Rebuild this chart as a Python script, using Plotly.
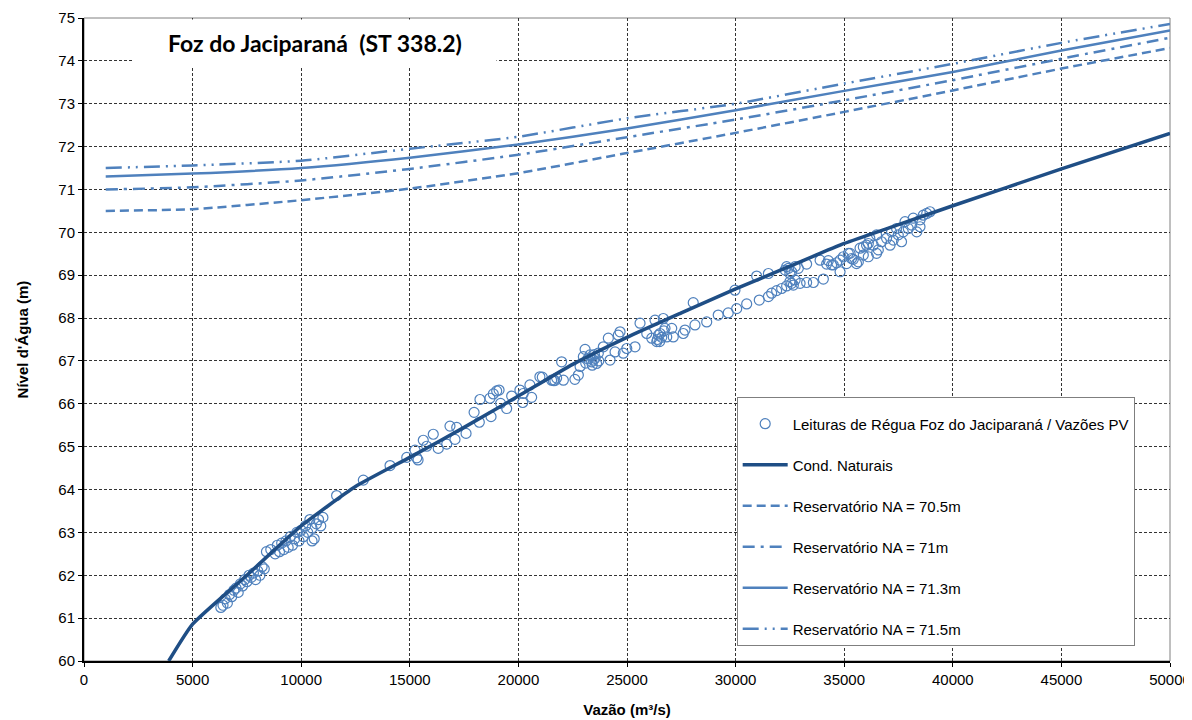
import plotly.graph_objects as go

# ---------------- data ----------------
obs_q = [
    6300, 6400, 6500, 6600, 6700, 6800, 6900, 7000, 7100, 7200, 7300, 7400, 7500, 7600, 7700, 7800, 7900, 8000, 8100, 8200, 8300,
    8400, 8600, 8800, 8900, 9000, 9100, 9200, 9300, 9400, 9500, 9600, 9700, 9800, 9900, 10000, 10100, 10200, 10300, 10400, 10500,
    10600, 10700, 10800, 10900, 11000, 10500,
    11630, 12860, 14090, 14860, 15240, 15320, 15380, 15620, 15780, 16080, 16310, 16700, 16850, 17080, 17160, 17590, 17960, 18200,
    18230, 18740, 18690, 18845, 19000, 19110, 19180, 19460, 19690, 20070, 20200, 20220, 20610, 20530, 21100, 21530, 21680, 21760,
    20990, 21610, 22070, 22600, 22760, 21990, 22840, 22990, 23070, 23300, 23370, 23450, 23530, 23600, 23680, 23910, 24140, 24220,
    24450, 24600, 24680, 24830, 24990, 25370, 25600, 25910, 26140, 26290, 26370, 26520, 26670, 26750, 26830, 27060, 27130, 27590,
    27670, 28130, 28670, 29200, 29660, 30050, 30510, 28050, 29970,
    26400, 26500, 26600, 26700, 26450, 23200, 23400, 23500, 23700, 23100,
    31090, 31510, 31660, 31890, 32120, 32350, 32500, 32580, 32660, 32740, 32970, 33270, 33580, 34040, 30970, 31510, 32280, 32350,
    32430, 32580, 32740, 32890, 33270, 33890, 34190, 34270, 34420, 34650, 34810, 34960, 35110, 35270, 35420, 35650, 35880, 36110,
    36340, 36490, 32500,
    34810, 34500, 35190, 35340, 35570, 35880, 36110, 35730, 36030, 36570, 36720, 36950, 37110, 37260, 37490, 37640, 37800, 37950,
    38110, 38180, 38340, 38490, 38640, 38800, 38950, 38490, 37720, 37410, 37180, 36490, 36180,
]
obs_h = [
    61.25, 61.3, 61.45, 61.35, 61.55, 61.5, 61.65, 61.7, 61.6, 61.8, 61.75, 61.9, 61.85, 62.0, 61.95, 62.05, 61.9, 62.1, 62.0, 62.2, 62.15,
    62.55, 62.6, 62.5, 62.7, 62.55, 62.75, 62.6, 62.8, 62.65, 62.9, 62.7, 62.85, 63.0, 62.8, 63.05, 62.9, 63.15, 63.0, 63.3, 63.1,
    62.85, 63.2, 63.3, 63.15, 63.35, 62.8,
    63.86, 64.22, 64.56, 64.75, 64.92, 64.74, 64.69, 65.15, 65.01, 65.29, 64.96, 65.06, 65.48, 65.17, 65.45, 65.31, 65.8, 65.57,
    66.1, 65.7, 66.13, 66.23, 66.3, 66.32, 66.01, 65.89, 66.18, 66.32, 66.03, 66.24, 66.15, 66.44, 66.62, 66.55, 66.54, 66.6,
    66.63, 66.54, 66.55, 66.57, 66.67, 66.98, 66.87, 67.1, 67.27, 67.14, 66.98, 67.02, 67.06, 66.94, 67.18, 67.33, 67.53, 67.02,
    67.21, 67.6, 67.68, 67.18, 67.29, 67.33, 67.88, 67.64, 67.53, 67.95, 67.45, 67.64, 67.99, 67.76, 67.56, 67.76, 67.56, 67.64,
    67.72, 67.84, 67.91, 68.07, 68.12, 68.22, 68.33, 68.36, 68.65,
    67.5, 67.45, 67.55, 67.7, 67.6, 67.05, 66.9, 67.15, 67.0, 66.95,
    68.42, 68.5, 68.58, 68.64, 68.69, 68.75, 68.85, 68.81, 68.77, 68.89, 68.81, 68.83, 68.83, 68.91, 68.98, 69.04, 69.12, 69.2,
    69.16, 69.08, 69.2, 69.16, 69.26, 69.35, 69.26, 69.34, 69.24, 69.29, 69.35, 69.43, 69.27, 69.51, 69.37, 69.31, 69.66, 69.74,
    69.7, 69.51, 69.04,
    69.08, 69.24, 69.51, 69.39, 69.27, 69.47, 69.43, 69.63, 69.7, 69.59, 69.78, 69.86, 69.7, 69.82, 69.94, 69.78, 70.25, 70.09,
    70.17, 70.33, 70.01, 70.13, 70.4, 70.44, 70.48, 70.29, 70.01, 70.09, 70.01, 69.94, 69.86,
]

nat_q = [3900, 5000, 7500, 10000, 12500, 15000, 17500, 20000, 22500, 25000, 27500, 30000, 32500, 35000, 37500, 40000, 45000, 50000]
nat_h = [60.0, 60.86, 62.0, 63.15, 64.07, 64.75, 65.45, 66.18, 66.92, 67.55, 68.12, 68.68, 69.21, 69.74, 70.18, 70.62, 71.48, 72.31]

res_q = [1000, 5000, 10000, 15000, 20000, 25000, 30000, 35000, 40000, 45000, 50000]
res_705 = [70.5, 70.54, 70.75, 71.02, 71.38, 71.85, 72.32, 72.81, 73.31, 73.82, 74.30]
res_710 = [71.0, 71.05, 71.21, 71.48, 71.81, 72.22, 72.63, 73.08, 73.55, 74.05, 74.54]
res_713 = [71.3, 71.37, 71.5, 71.74, 72.05, 72.42, 72.85, 73.3, 73.74, 74.24, 74.71]
res_715 = [71.5, 71.56, 71.67, 71.95, 72.23, 72.66, 73.0, 73.47, 73.93, 74.42, 74.86]

x_ticks = [0, 5000, 10000, 15000, 20000, 25000, 30000, 35000, 40000, 45000, 50000]
y_ticks = [60, 61, 62, 63, 64, 65, 66, 67, 68, 69, 70, 71, 72, 73, 74, 75]

names = ["Leituras de Régua Foz do Jaciparaná / Vazões PV", "Cond. Naturais",
         "Reservatório NA = 70.5m", "Reservatório NA = 71m",
         "Reservatório NA = 71.3m", "Reservatório NA = 71.5m"]

# ---------------- figure ----------------
LIGHT = "#4F81BD"
DARK = "#1F4E85"
FONT = "Liberation Sans, Arial, sans-serif"

fig = go.Figure()
fig.add_trace(go.Scatter(x=obs_q, y=obs_h, mode="markers", name=names[0], legendgroup="g0",
                         marker=dict(symbol="circle-open", size=10, color=LIGHT, line=dict(width=1.2, color=LIGHT))))
fig.add_trace(go.Scatter(x=nat_q, y=nat_h, mode="lines", name=names[1], legendgroup="g1",
                         line=dict(color=DARK, width=3.5, shape="spline", smoothing=0.5)))
fig.add_trace(go.Scatter(x=res_q, y=res_705, mode="lines", name=names[2], legendgroup="g2",
                         line=dict(color=LIGHT, width=2.5, dash="9px,5px", shape="spline", smoothing=0.5)))
fig.add_trace(go.Scatter(x=res_q, y=res_710, mode="lines", name=names[3], legendgroup="g3",
                         line=dict(color=LIGHT, width=2.5, dash="12px,6px,3px,6px", shape="spline", smoothing=0.5)))
fig.add_trace(go.Scatter(x=res_q, y=res_713, mode="lines", name=names[4], legendgroup="g4",
                         line=dict(color=LIGHT, width=2.5, shape="spline", smoothing=0.5)))
fig.add_trace(go.Scatter(x=res_q, y=res_715, mode="lines", name=names[5], legendgroup="g5",
                         line=dict(color=LIGHT, width=2.5, dash="16px,6px,2px,6px,2px,6px", shape="spline", smoothing=0.5)))

fig.update_layout(
    width=1184, height=712,
    margin=dict(l=76, r=22, t=10, b=59, autoexpand=False),
    paper_bgcolor="white", plot_bgcolor="white",
    font=dict(family=FONT, size=15, color="black"),
    showlegend=True,
    legend=dict(x=0.601, y=0.41, xanchor="left", yanchor="top",
                bgcolor="white", bordercolor="#7f7f7f", borderwidth=1,
                font=dict(family=FONT, size=15, color="black"),
                title=dict(text=" ", font=dict(size=7)),
                entrywidth=410, entrywidthmode="pixels",
                tracegroupgap=18.5, itemwidth=45, traceorder="grouped"),
)
fig.update_xaxes(range=[0, 50000], tickvals=x_ticks, ticktext=[str(v) for v in x_ticks],
                 automargin=False,
                 showgrid=True, gridcolor="#333333", gridwidth=1, griddash="3px,2px",
                 showline=True, linecolor="black", linewidth=2, zeroline=False,
                 ticks="outside", ticklen=4, tickcolor="black",
                 tickfont=dict(family=FONT, size=15),
                 title=dict(text="<b>Vazão (m³/s)</b>", font=dict(family=FONT, size=15), standoff=17))
fig.update_yaxes(range=[60, 75], tickvals=y_ticks,
                 automargin=False,
                 showgrid=True, gridcolor="#333333", gridwidth=1, griddash="3px,2px",
                 showline=True, linecolor="black", linewidth=2, zeroline=False,
                 ticks="outside", ticklen=4, tickcolor="black",
                 tickfont=dict(family=FONT, size=15),
                 title=dict(text="<b>Nível d'Água (m)</b>", font=dict(family=FONT, size=15), standoff=26))

# plot border (top and right)
fig.add_shape(type="rect", xref="paper", yref="paper", x0=0, y0=0, x1=1, y1=1,
              line=dict(color="#808080", width=1), layer="below")

# chart title in a white box
fig.add_annotation(xref="paper", yref="paper", x=0.045, y=0.999, xanchor="left", yanchor="top",
                   text="<b>Foz do Jaciparaná  (ST 338.2)</b>", showarrow=False,
                   font=dict(family="Lato, Open Sans, sans-serif", size=23, color="black"),
                   bgcolor="white", width=360, height=44, align="center")

fig.write_html("out.html")
